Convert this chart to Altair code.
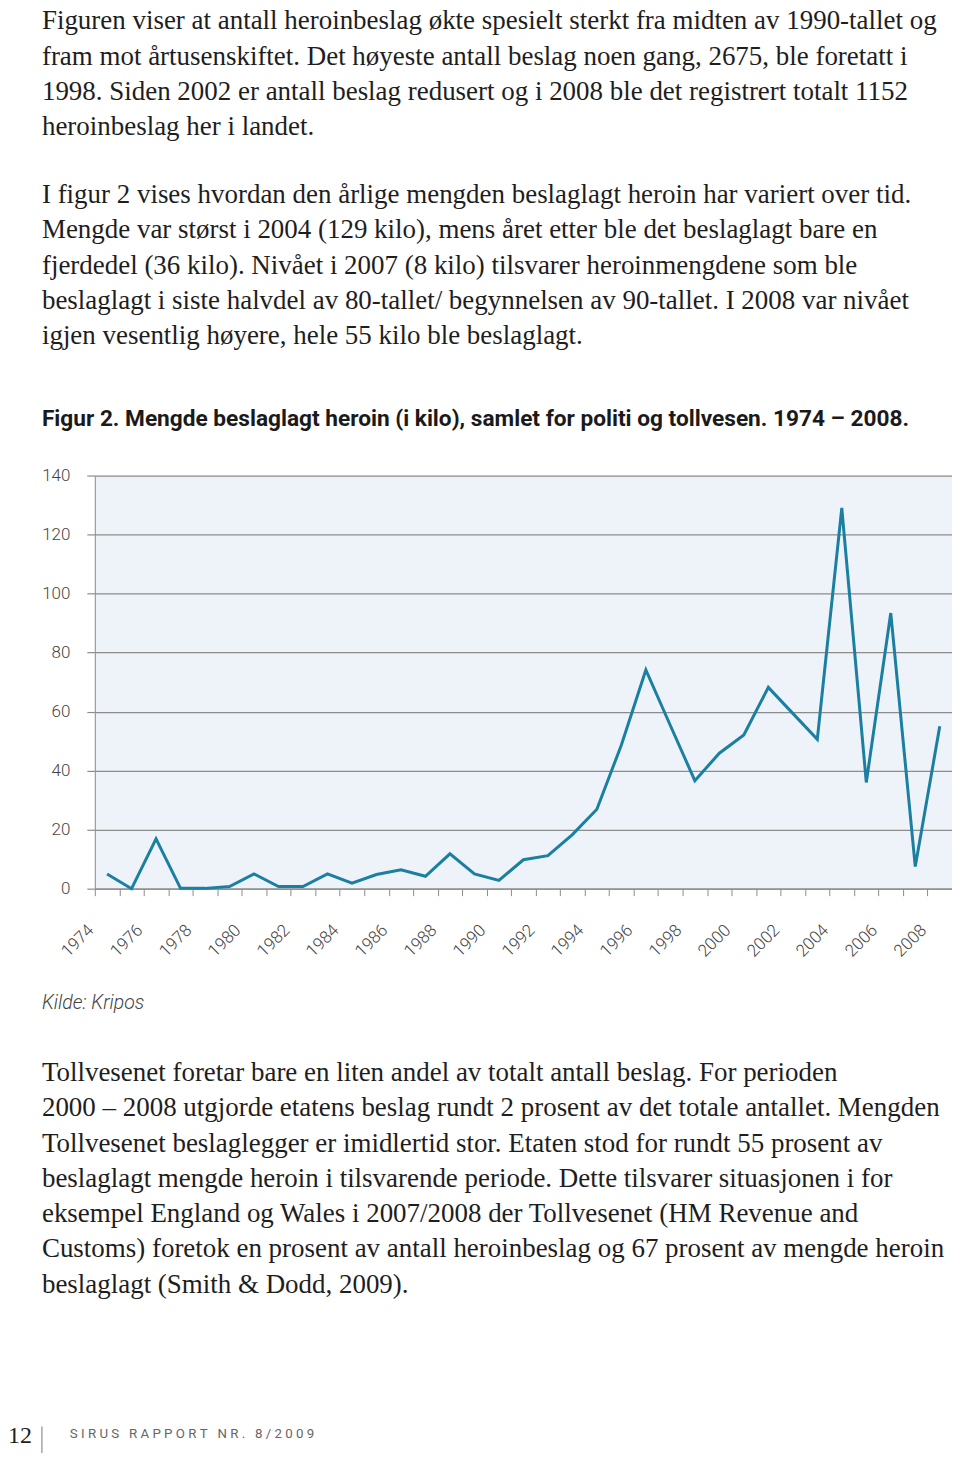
import altair as alt
import pandas as pd

# ---- data -------------------------------------------------------------
years = list(range(1974, 2009))
kilo = [5.0, 0.0, 16.9, 0.1, 0.1, 0.7, 5.0, 0.7, 0.7, 5.0,
        1.9, 4.8, 6.4, 4.2, 11.8, 5.0, 2.8, 9.8, 11.2, 18.3,
        26.9, 48.7, 74.1, 55.3, 36.6, 45.9, 52.1, 68.2, 59.4, 50.6,
        129.0, 36.0, 93.4, 7.5, 55.0]
y_ticks = [0, 20, 40, 60, 80, 100, 120, 140]

para1 = [
    "Figuren viser at antall heroinbeslag økte spesielt sterkt fra midten av 1990-tallet og",
    "fram mot årtusenskiftet. Det høyeste antall beslag noen gang, 2675, ble foretatt i",
    "1998. Siden 2002 er antall beslag redusert og i 2008 ble det registrert totalt 1152",
    "heroinbeslag her i landet.",
]
para2 = [
    "I figur 2 vises hvordan den årlige mengden beslaglagt heroin har variert over tid.",
    "Mengde var størst i 2004 (129 kilo), mens året etter ble det beslaglagt bare en",
    "fjerdedel (36 kilo). Nivået i 2007 (8 kilo) tilsvarer heroinmengdene som ble",
    "beslaglagt i siste halvdel av 80-tallet/ begynnelsen av 90-tallet. I 2008 var nivået",
    "igjen vesentlig høyere, hele 55 kilo ble beslaglagt.",
]
fig_title = "Figur 2. Mengde beslaglagt heroin (i kilo), samlet for politi og tollvesen. 1974 – 2008."
source = "Kilde: Kripos"
para3 = [
    "Tollvesenet foretar bare en liten andel av totalt antall beslag. For perioden",
    "2000 – 2008 utgjorde etatens beslag rundt 2 prosent av det totale antallet. Mengden",
    "Tollvesenet beslaglegger er imidlertid stor. Etaten stod for rundt 55 prosent av",
    "beslaglagt mengde heroin i tilsvarende periode. Dette tilsvarer situasjonen i for",
    "eksempel England og Wales i 2007/2008 der Tollvesenet (HM Revenue and",
    "Customs) foretok en prosent av antall heroinbeslag og 67 prosent av mengde heroin",
    "beslaglagt (Smith & Dodd, 2009).",
]
page_no = "12"
footer = "SIRUS RAPPORT NR. 8/2009"

df = pd.DataFrame({"year": years, "kilo": kilo})
one = pd.DataFrame({"k": [0]})

GRID = "#8c8c8c"
LINE = "#1b7fa2"
SERIF = "Liberation Serif"
SANS = "Roboto"

line = alt.Chart(df).mark_line(color=LINE, strokeWidth=3).encode(
    x=alt.X("year:O",
            scale=alt.Scale(type="band", paddingInner=0, paddingOuter=0),
            axis=alt.Axis(title=None, tickBand="extent", labelAngle=-45,
                          labelExpr="datum.value % 2 == 0 ? datum.label : ''",
                          tickSize=7, tickColor=GRID, tickWidth=1,
                          domainColor=GRID, domainWidth=1.2,
                          labelFont=SANS, labelFontWeight=300, labelFontSize=17,
                          labelColor="#444", labelPadding=26, labelOffset=-22,
                          labelOverlap=False, labelBound=False)),
    y=alt.Y("kilo:Q",
            scale=alt.Scale(domain=[0, 140], nice=False),
            axis=alt.Axis(title=None, values=y_ticks, grid=True, gridColor=GRID,
                          gridWidth=1.2, tickSize=8, tickColor=GRID, tickWidth=1.2,
                          domainColor=GRID, domainWidth=1,
                          labelFont=SANS, labelFontWeight=300, labelFontSize=17,
                          labelColor="#444", labelPadding=17)),
)


def text_block(lines, x, y, size, font, color="#1e1e1e", weight="normal",
               style="normal", lh=35.3):
    return alt.Chart(one).mark_text(
        align="left", baseline="alphabetic", lineBreak="\n", lineHeight=lh,
        font=font, fontSize=size, fontWeight=weight, fontStyle=style, color=color,
    ).encode(x=alt.value(x), y=alt.value(y), text=alt.value("\n".join(lines)))


spaced_footer = "\u00a0\u00a0\u00a0".join("\u00a0".join(list(w)) for w in footer.split(" "))

layers = [
    line,
    text_block(para1, -53, -447, 27, SERIF),
    text_block(para2, -53, -273, 27, SERIF),
    text_block([fig_title], -53, -50, 22.7, SANS, color="#1a1a1a", weight="bold"),
    text_block([source], -53, 535, 19.5, SANS, color="#444", weight=300, style="italic"),
    text_block(para3, -53, 607, 27, SERIF),
    text_block([page_no], -87, 970, 24, SERIF),
    text_block([spaced_footer], -25, 964, 13.3, SANS, color="#666"),
    alt.Chart(one).mark_rule(color="#777", strokeWidth=1).encode(
        x=alt.value(-53), y=alt.value(953), y2=alt.value(985)),
]

chart = alt.layer(*layers).properties(
    width=859, height=414,
    autosize=alt.AutoSizeParams(type="none"),
    padding={"left": 87, "top": 467, "right": 0, "bottom": 564},
).configure_view(fill="#eef3f9", stroke=None)

chart.save("out.html", embed_options={"renderer": "svg", "actions": False})
